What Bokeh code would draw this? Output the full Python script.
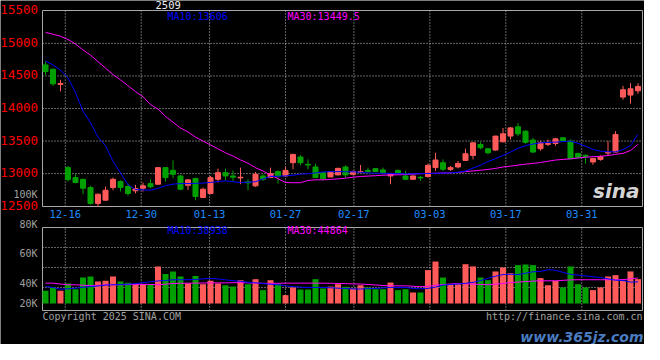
from bokeh.plotting import figure
from bokeh.models import Range1d, Label, ColumnDataSource
from bokeh.embed import file_html
from bokeh.resources import INLINE

# ---------------- data ----------------
contract = "2509"
dates = ["12-11", "12-12", "12-13", "12-16", "12-17", "12-18", "12-19", "12-20",
         "12-23", "12-24", "12-25", "12-26", "12-27", "12-30", "12-31", "01-02",
         "01-03", "01-06", "01-07", "01-08", "01-09", "01-10", "01-13", "01-14",
         "01-15", "01-16", "01-17", "01-20", "01-21", "01-22", "01-23", "01-24",
         "01-27", "02-05", "02-06", "02-07", "02-10", "02-11", "02-12", "02-13",
         "02-14", "02-17", "02-18", "02-19", "02-20", "02-21", "02-24", "02-25",
         "02-26", "02-27", "02-28", "03-03", "03-04", "03-05", "03-06", "03-07",
         "03-10", "03-11", "03-12", "03-13", "03-14", "03-17", "03-18", "03-19",
         "03-20", "03-21", "03-24", "03-25", "03-26", "03-27", "03-28", "03-31",
         "04-01", "04-02", "04-03", "04-07", "04-08", "04-09", "04-10", "04-11"]

opens = [14669, 14603, 14370, 13092, 12939, 12913, 12786, 12542, 12592, 12786,
         12878, 12801, 12736, 12776, 12847, 12837, 13092, 13050, 12964, 12822,
         12924, 12634, 12695, 12913, 13015, 12964, 12934, 12873, 12812, 12964,
         12939, 13031, 12964, 13168, 13255, 13142, 13102, 13015, 12949, 12980,
         13102, 12989, 13020, 13050, 13076, 13056, 12964, 13050, 12964, 12913,
         12944, 12954, 13092, 13168, 13066, 13102, 13203, 13279, 13447, 13382,
         13362, 13489, 13576, 13718, 13652, 13515, 13382, 13450, 13463, 13550,
         13499, 13310, 13280, 13179, 13218, 13316, 13331, 14176, 14206, 14272]
highs = [14721, 14610, 14440, 13117, 12990, 12920, 12812, 12690, 12801, 12939,
         12898, 12847, 12827, 12863, 12913, 13102, 13102, 13203, 12980, 12913,
         12939, 12786, 12964, 13076, 13076, 13050, 13092, 12913, 13026, 12990,
         13092, 13050, 13102, 13305, 13285, 13218, 13153, 13020, 13030, 13090,
         13127, 13046, 13133, 13092, 13085, 13092, 12995, 13060, 13041, 12970,
         12964, 13153, 13321, 13218, 13117, 13194, 13382, 13480, 13484, 13390,
         13580, 13702, 13715, 13779, 13665, 13550, 13504, 13524, 13550, 13560,
         13524, 13320, 13295, 13240, 13280, 13499, 13652, 14348, 14390, 14390]
lows = [14516, 14348, 14263, 12878, 12852, 12684, 12522, 12492, 12585, 12745,
        12725, 12659, 12695, 12725, 12776, 12827, 12878, 12928, 12745, 12750,
        12592, 12623, 12684, 12863, 12898, 12878, 12837, 12745, 12797, 12888,
        12934, 12847, 12960, 13066, 13127, 13066, 12934, 12898, 12945, 12975,
        12939, 12975, 13015, 13015, 13025, 12989, 12837, 13000, 12904, 12900,
        12888, 12939, 13041, 13041, 13041, 13081, 13194, 13218, 13371, 13295,
        13350, 13480, 13524, 13576, 13460, 13320, 13351, 13423, 13428, 13500,
        13220, 13240, 13153, 13137, 13198, 13270, 13325, 14135, 14074, 14226]
closes = [14568, 14379, 14385, 12908, 12863, 12776, 12542, 12684, 12745, 12913,
          12786, 12695, 12771, 12812, 12797, 13092, 12939, 12990, 12760, 12904,
          12649, 12760, 12939, 13015, 12964, 12944, 12944, 12858, 12990, 12913,
          13000, 12964, 13050, 13295, 13168, 13132, 12939, 12924, 13026, 13081,
          12980, 13031, 13030, 13031, 13031, 13015, 12989, 13005, 12913, 12964,
          12934, 13127, 13209, 13066, 13092, 13157, 13305, 13473, 13397, 13321,
          13576, 13611, 13702, 13611, 13480, 13331, 13473, 13462, 13534, 13509,
          13229, 13244, 13265, 13234, 13260, 13326, 13600, 14287, 14303, 14339]
volumes = [34900, 37200, 34900, 39900, 36000, 43900, 44600, 41200, 41700, 44600,
           41200, 40300, 39400, 39400, 39400, 51400, 46200, 48000, 44600, 39900,
           45000, 39400, 41700, 39900, 38700, 37800, 42100, 39400, 42800, 35400,
           42100, 39400, 32000, 37200, 35800, 35800, 42800, 36500, 37800, 39400,
           37600, 36500, 38700, 37200, 36000, 36000, 40500, 35400, 36000, 33800,
           33800, 48900, 54700, 43900, 39400, 39400, 52900, 51400, 43900, 42100,
           48000, 50700, 46800, 52300, 52700, 52300, 43500, 38700, 41700, 37200,
           51400, 39400, 37200, 35400, 37200, 44600, 45500, 41700, 48000, 42800]
ma10 = [14730, 14670, 14590, 14470, 14245, 13960, 13780, 13560, 13430, 13190,
        13010, 12830, 12755, 12750, 12745, 12775, 12815, 12838, 12847, 12847,
        12850, 12855, 12865, 12878, 12889, 12875, 12863, 12868, 12875, 12920,
        12955, 12960, 12965, 12975, 12992, 13000, 13010, 13026, 13030, 13031,
        13029, 13027, 13020, 13010, 13005, 13005, 13004, 13000, 12995, 12997,
        13000, 13002, 13004, 13008, 13012, 13020, 13040, 13085, 13130, 13185,
        13230, 13280, 13330, 13390, 13430, 13455, 13473, 13479, 13484, 13492,
        13499, 13465, 13420, 13370, 13345, 13335, 13335, 13370, 13430, 13606]
ma30 = [15170, 15140, 15110, 15060, 14990, 14900, 14820, 14720, 14620, 14520,
        14440, 14350, 14260, 14180, 14060, 13990, 13880, 13790, 13700, 13640,
        13560, 13500, 13440, 13380, 13320, 13270, 13210, 13160, 13090, 13040,
        12980, 12920, 12865, 12860, 12860, 12895, 12905, 12905, 12910, 12920,
        12930, 12945, 12955, 12962, 12968, 12975, 12980, 12982, 12985, 12993,
        13000, 13003, 13005, 13010, 13013, 13018, 13030, 13041, 13052, 13064,
        13080, 13102, 13115, 13130, 13145, 13157, 13170, 13190, 13209, 13218,
        13227, 13240, 13252, 13260, 13266, 13278, 13296, 13311, 13354, 13449.5]
vol_ma10 = [37800, 37200, 36000, 36300, 36700, 37300, 37800, 38200, 38800, 39000,
            39200, 39400, 39800, 40400, 41100, 41600, 41900, 42400, 42400, 42400,
            42600, 43000, 43200, 43000, 42300, 41800, 41300, 40700, 40300, 39800,
            39400, 39000, 38300, 37700, 37400, 37200, 37200, 37200, 37000, 36700,
            36500, 36200, 36100, 36400, 36500, 36900, 37200, 37200, 37200, 36600,
            36200, 36600, 37400, 38800, 39200, 39500, 40000, 40600, 41800, 43400,
            44800, 45900, 46100, 45900, 46800, 47800, 48000, 49200, 48800, 47400,
            46000, 45500, 45000, 44400, 43900, 43000, 42100, 41900, 40800, 41000]
vol_ma30 = [40100, 40100, 39500, 39000, 39000, 38700, 38400, 38600, 38900, 39000,
            39000, 39100, 39300, 39300, 39200, 39000, 39400, 39900, 40000, 40100,
            40100, 40200, 40300, 40300, 40300, 40400, 40500, 40300, 40100, 40000,
            39900, 40000, 40100, 40100, 40100, 40100, 40100, 40100, 40000, 39900,
            39800, 39600, 39500, 39200, 38900, 38500, 38300, 38300, 38300, 38000,
            37700, 38000, 38600, 39100, 39500, 39900, 39700, 39400, 39200, 39000,
            39400, 39900, 40500, 40800, 41200, 41500, 41700, 41700, 41700, 42000,
            42300, 42400, 42400, 42400, 42400, 42400, 42400, 42500, 43000, 43600]
vol_ma10_last = 38938
vol_ma30_last = 44864

price_ticks = [12500, 13000, 13500, 14000, 14500, 15000, 15500]
price_grid = [13000, 13500, 14000, 14500, 15000]
date_tick_labels = ["12-16", "12-30", "01-13", "01-27", "02-17", "03-03", "03-17", "03-31"]
vol_tick_values = [20000, 40000, 60000, 80000, 100000]
vol_tick_labels = ["20K", "40K", "60K", "80K", "100K"]
vol_grid = [37200, 50700, 64200]

# ---------------- layout / styling ----------------
RED = "#ff5a5a"
GREEN = "#00a000"
GRID = "#c8c8c8"
FRAME = "#a8a8a8"
MONO = "DejaVu Sans Mono"
W, H = 644, 344                       # canvas
PANEL_L, PANEL_R = 42, 642            # panel edges (canvas px)
PRICE_T, PRICE_B = 10, 206
VOL_T, VOL_B, VOL_BASE_PX = 227, 310, 303
VOL_ZERO_PX, VOL_PX = 342, 0.00148    # volume scale: px = VOL_ZERO_PX - VOL_PX * v
PRICE_PANEL = (12495, 15505)

N = len(dates)
idx = list(range(N))
step = (PANEL_R - PANEL_L) / N
x_left_edge = -0.4
xr = Range1d(x_left_edge - PANEL_L / step, x_left_edge + (W - PANEL_L) / step)
xL, xR = x_left_edge, x_left_edge + N

ppp = (PRICE_B - PRICE_T) / (PRICE_PANEL[1] - PRICE_PANEL[0])
yr = Range1d(PRICE_PANEL[0] - (H - PRICE_B) / ppp, PRICE_PANEL[1] + PRICE_T / ppp)
vol_range = Range1d((VOL_ZERO_PX - H) / VOL_PX, VOL_ZERO_PX / VOL_PX)
VOL_PANEL = ((VOL_ZERO_PX - VOL_B) / VOL_PX, (VOL_ZERO_PX - VOL_T) / VOL_PX)
BAR_BASE = (VOL_ZERO_PX - VOL_BASE_PX) / VOL_PX

# Sina spaces its date grid over the panel in (N-1) steps
xticks = [xL + dates.index(d) * N / (N - 1) for d in date_tick_labels]

colors = [RED if c >= o else GREEN for o, c in zip(opens, closes)]
src = ColumnDataSource(dict(
    x=idx, high=highs, low=lows,
    top=[max(o, c) for o, c in zip(opens, closes)],
    bottom=[min(o, c) for o, c in zip(opens, closes)],
    color=colors, vol=volumes))

p = figure(width=W, height=H, x_range=xr, y_range=yr, output_backend="svg",
           toolbar_location=None, x_axis_location=None, y_axis_location=None,
           min_border=0, background_fill_color="black", border_fill_color="black",
           outline_line_color=None)
p.extra_y_ranges = {"vol": vol_range}
p.grid.visible = False

dot = dict(line_color=GRID, line_dash="1 2", line_width=1)
# price panel grid
p.segment(x0=xticks, y0=[PRICE_PANEL[0]] * len(xticks), x1=xticks,
          y1=[PRICE_PANEL[1]] * len(xticks), **dot)
p.segment(x0=[xL] * len(price_grid), y0=price_grid, x1=[xR] * len(price_grid),
          y1=price_grid, **dot)
# volume panel grid
p.segment(x0=xticks, y0=[VOL_PANEL[0]] * len(xticks), x1=xticks,
          y1=[VOL_PANEL[1]] * len(xticks), y_range_name="vol", **dot)
p.segment(x0=[xL] * len(vol_grid), y0=vol_grid, x1=[xR] * len(vol_grid),
          y1=vol_grid, y_range_name="vol", **dot)
# panel borders
p.quad(left=[xL], right=[xR], bottom=[PRICE_PANEL[0]], top=[PRICE_PANEL[1]],
       fill_color=None, line_color=FRAME, line_width=1)
p.quad(left=[xL], right=[xR], bottom=[VOL_PANEL[0]], top=[VOL_PANEL[1]],
       fill_color=None, line_color=FRAME, line_width=1, y_range_name="vol")

# candles
p.segment(x0="x", y0="low", x1="x", y1="high", line_color="color", line_width=1, source=src)
p.vbar(x="x", width=0.667, top="top", bottom="bottom", fill_color="color",
       line_color="color", line_width=1, source=src)
p.line(idx, ma30, line_color="#ff00ff", line_width=1)
p.line(idx, ma10, line_color="#0000ff", line_width=1)

# volume
p.vbar(x="x", width=0.8, top="vol", bottom=BAR_BASE, fill_color="color",
       line_color=None, source=src, y_range_name="vol")
p.line(idx, vol_ma30, line_color="#ff00ff", line_width=1, y_range_name="vol")
p.line(idx, vol_ma10, line_color="#0000ff", line_width=1, y_range_name="vol")


def txt(text, color, x, y, size="10px", font=MONO, style="normal", **kw):
    kw.setdefault("text_baseline", "middle")
    p.add_layout(Label(x=x, y=y, text=text, text_color=color, text_font=font,
                       text_font_size=size, text_font_style=style, **kw))


# price axis labels
for t in price_ticks:
    txt(str(t), "#ff0000", xL, t, size="12.5px", x_offset=-4.5, y_offset=1,
        text_align="right")
# volume axis labels (20K sits on the bar base line)
for v, lab in zip(vol_tick_values, vol_tick_labels):
    txt(lab, "#a0a0a0", xL, max(v, BAR_BASE), x_offset=-5, text_align="right",
        y_range_name="vol")
# date labels between the panels
for t, lab in zip(xticks, date_tick_labels):
    txt(lab, "#1e8cff", t, PRICE_PANEL[0], size="10.5px", y_offset=-7.5,
        text_align="center")

txt(contract, "#f0f0f0", xL, PRICE_PANEL[1], size="10.5px", x_offset=113, y_offset=5.5)
txt("MA10:%g" % ma10[-1], "#0000ff", xL, PRICE_PANEL[1], x_offset=125, y_offset=-6)
txt("MA30:%g" % ma30[-1], "#ff00ff", xL, PRICE_PANEL[1], x_offset=245, y_offset=-6)
txt("sina", "#d4d4d4", xR, PRICE_PANEL[0], size="20px", font="DejaVu Sans",
    style="bold italic", x_offset=-3, y_offset=4, text_align="right",
    text_baseline="bottom")

txt("MA10:%d" % vol_ma10_last, "#0000ff", xL, VOL_PANEL[1], x_offset=125, y_offset=-3,
    y_range_name="vol")
txt("MA30:%d" % vol_ma30_last, "#ff00ff", xL, VOL_PANEL[1], x_offset=245, y_offset=-3,
    y_range_name="vol")
txt("Copyright 2025 SINA.COM", "#a0a0a0", xL, VOL_PANEL[0], y_offset=-5.5,
    y_range_name="vol")
txt("http://finance.sina.com.cn", "#a0a0a0", xR, VOL_PANEL[0], y_offset=-5.5,
    text_align="right", y_range_name="vol")
txt("www.365jz.com", "#4a7cc0", xR, VOL_PANEL[0], size="14px", font="DejaVu Sans",
    style="bold italic", x_offset=1, y_offset=-26, text_align="right",
    y_range_name="vol")

open("out.html", "w").write(file_html(p, INLINE))
